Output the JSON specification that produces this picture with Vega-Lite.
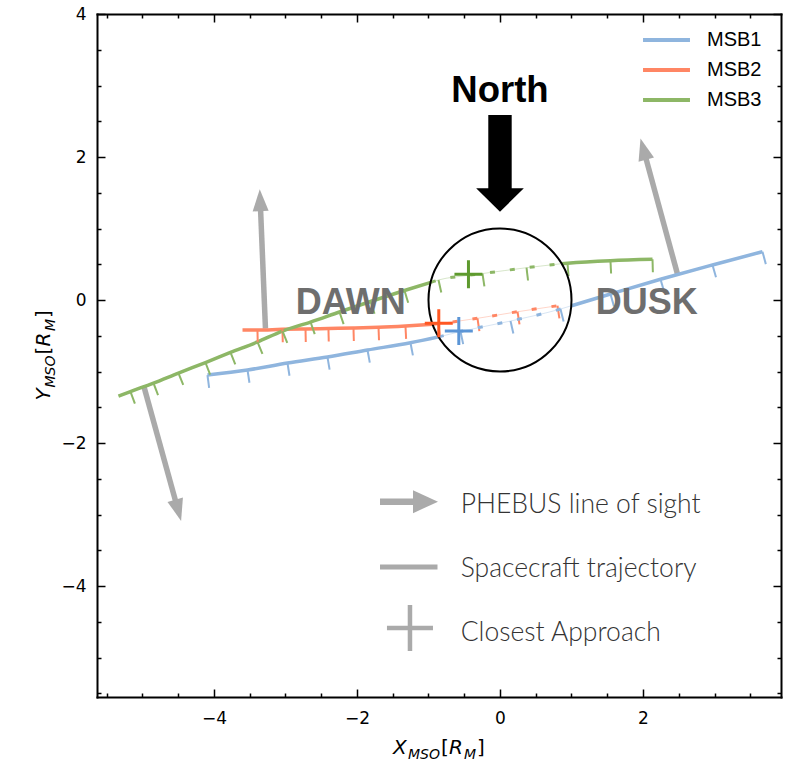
{
 "$schema": "https://vega.github.io/schema/vega-lite/v6.json",
 "width": 684,
 "height": 683,
 "autosize": {"type": "none"},
 "padding": {"left": 97, "top": 14, "right": 11, "bottom": 63},
 "background": "white",
 "config": {"view": {"stroke": null}},
 "datasets": {
  "traj": [
   {"msb":"MSB1","seg":"a","x":-4.091,"y":-1.049},
   {"msb":"MSB1","seg":"a","x":-3.531,"y":-0.979},
   {"msb":"MSB1","seg":"a","x":-2.972,"y":-0.881},
   {"msb":"MSB1","seg":"a","x":-2.413,"y":-0.797},
   {"msb":"MSB1","seg":"a","x":-1.853,"y":-0.699},
   {"msb":"MSB1","seg":"a","x":-1.252,"y":-0.597},
   {"msb":"MSB1","seg":"a","x":-0.855,"y":-0.515},
   {"msb":"MSB1","seg":"in","x":-0.855,"y":-0.515},
   {"msb":"MSB1","seg":"in","x":-0.552,"y":-0.441},
   {"msb":"MSB1","seg":"in","x":0.147,"y":-0.294},
   {"msb":"MSB1","seg":"in","x":0.846,"y":-0.126},
   {"msb":"MSB1","seg":"in","x":0.997,"y":-0.081},
   {"msb":"MSB1","seg":"b","x":0.997,"y":-0.081},
   {"msb":"MSB1","seg":"b","x":1.545,"y":0.084},
   {"msb":"MSB1","seg":"b","x":2.245,"y":0.29},
   {"msb":"MSB1","seg":"b","x":2.972,"y":0.49},
   {"msb":"MSB1","seg":"b","x":3.671,"y":0.676},
   {"msb":"MSB2","seg":"a","x":-3.601,"y":-0.42},
   {"msb":"MSB2","seg":"a","x":-3.392,"y":-0.42},
   {"msb":"MSB2","seg":"a","x":-3.042,"y":-0.41},
   {"msb":"MSB2","seg":"a","x":-2.72,"y":-0.406},
   {"msb":"MSB2","seg":"a","x":-2.399,"y":-0.399},
   {"msb":"MSB2","seg":"a","x":-2.049,"y":-0.392},
   {"msb":"MSB2","seg":"a","x":-1.699,"y":-0.382},
   {"msb":"MSB2","seg":"a","x":-1.322,"y":-0.364},
   {"msb":"MSB2","seg":"a","x":-0.94,"y":-0.34},
   {"msb":"MSB2","seg":"in","x":-0.94,"y":-0.34},
   {"msb":"MSB2","seg":"in","x":-0.86,"y":-0.331},
   {"msb":"MSB2","seg":"in","x":-0.315,"y":-0.256},
   {"msb":"MSB2","seg":"in","x":0.245,"y":-0.164},
   {"msb":"MSB2","seg":"in","x":0.804,"y":-0.08},
   {"msb":"MSB3","seg":"a","x":-5.336,"y":-1.343},
   {"msb":"MSB3","seg":"a","x":-5.168,"y":-1.28},
   {"msb":"MSB3","seg":"a","x":-4.846,"y":-1.161},
   {"msb":"MSB3","seg":"a","x":-4.497,"y":-1.021},
   {"msb":"MSB3","seg":"a","x":-4.119,"y":-0.874},
   {"msb":"MSB3","seg":"a","x":-3.769,"y":-0.734},
   {"msb":"MSB3","seg":"a","x":-3.392,"y":-0.587},
   {"msb":"MSB3","seg":"a","x":-3.042,"y":-0.434},
   {"msb":"MSB3","seg":"a","x":-2.65,"y":-0.308},
   {"msb":"MSB3","seg":"a","x":-2.245,"y":-0.168},
   {"msb":"MSB3","seg":"a","x":-1.811,"y":-0.021},
   {"msb":"MSB3","seg":"a","x":-1.336,"y":0.133},
   {"msb":"MSB3","seg":"a","x":-0.966,"y":0.247},
   {"msb":"MSB3","seg":"in","x":-0.966,"y":0.247},
   {"msb":"MSB3","seg":"in","x":-0.86,"y":0.28},
   {"msb":"MSB3","seg":"in","x":-0.441,"y":0.345},
   {"msb":"MSB3","seg":"in","x":-0.245,"y":0.37},
   {"msb":"MSB3","seg":"in","x":0.371,"y":0.452},
   {"msb":"MSB3","seg":"in","x":0.86,"y":0.508},
   {"msb":"MSB3","seg":"b","x":0.86,"y":0.508},
   {"msb":"MSB3","seg":"b","x":0.944,"y":0.515},
   {"msb":"MSB3","seg":"b","x":1.545,"y":0.55},
   {"msb":"MSB3","seg":"b","x":2.133,"y":0.569}
  ],
  "ticks": [
   {"msb":"MSB1","x":-4.091,"y":-1.049,"x2":-4.068,"y2":-1.228},
   {"msb":"MSB1","x":-3.531,"y":-0.979,"x2":-3.504,"y2":-1.157},
   {"msb":"MSB1","x":-2.972,"y":-0.881,"x2":-2.944,"y2":-1.059},
   {"msb":"MSB1","x":-2.413,"y":-0.797,"x2":-2.383,"y2":-0.974},
   {"msb":"MSB1","x":-1.853,"y":-0.699,"x2":-1.821,"y2":-0.876},
   {"msb":"MSB1","x":-1.252,"y":-0.597,"x2":-1.218,"y2":-0.774},
   {"msb":"MSB1","x":-0.552,"y":-0.441,"x2":-0.515,"y2":-0.617},
   {"msb":"MSB1","x":0.147,"y":-0.294,"x2":0.187,"y2":-0.469},
   {"msb":"MSB1","x":0.846,"y":-0.126,"x2":0.89,"y2":-0.301},
   {"msb":"MSB1","x":1.545,"y":0.084,"x2":1.594,"y2":-0.089},
   {"msb":"MSB1","x":2.245,"y":0.29,"x2":2.295,"y2":0.117},
   {"msb":"MSB1","x":2.972,"y":0.49,"x2":3.021,"y2":0.317},
   {"msb":"MSB1","x":3.671,"y":0.676,"x2":3.718,"y2":0.502},
   {"msb":"MSB2","x":-3.392,"y":-0.42,"x2":-3.388,"y2":-0.6},
   {"msb":"MSB2","x":-3.042,"y":-0.41,"x2":-3.038,"y2":-0.59},
   {"msb":"MSB2","x":-2.72,"y":-0.406,"x2":-2.716,"y2":-0.586},
   {"msb":"MSB2","x":-2.399,"y":-0.399,"x2":-2.395,"y2":-0.579},
   {"msb":"MSB2","x":-2.049,"y":-0.392,"x2":-2.044,"y2":-0.572},
   {"msb":"MSB2","x":-1.699,"y":-0.382,"x2":-1.692,"y2":-0.562},
   {"msb":"MSB2","x":-1.322,"y":-0.364,"x2":-1.313,"y2":-0.544},
   {"msb":"MSB2","x":-0.86,"y":-0.331,"x2":-0.842,"y2":-0.51},
   {"msb":"MSB2","x":-0.315,"y":-0.256,"x2":-0.288,"y2":-0.434},
   {"msb":"MSB2","x":0.245,"y":-0.164,"x2":0.273,"y2":-0.342},
   {"msb":"MSB2","x":0.804,"y":-0.08,"x2":0.831,"y2":-0.258},
   {"msb":"MSB3","x":-5.168,"y":-1.28,"x2":-5.106,"y2":-1.449},
   {"msb":"MSB3","x":-4.846,"y":-1.161,"x2":-4.782,"y2":-1.329},
   {"msb":"MSB3","x":-4.497,"y":-1.021,"x2":-4.43,"y2":-1.188},
   {"msb":"MSB3","x":-4.119,"y":-0.874,"x2":-4.054,"y2":-1.042},
   {"msb":"MSB3","x":-3.769,"y":-0.734,"x2":-3.702,"y2":-0.901},
   {"msb":"MSB3","x":-3.392,"y":-0.587,"x2":-3.322,"y2":-0.753},
   {"msb":"MSB3","x":-3.042,"y":-0.434,"x2":-2.975,"y2":-0.601},
   {"msb":"MSB3","x":-2.65,"y":-0.308,"x2":-2.591,"y2":-0.478},
   {"msb":"MSB3","x":-2.245,"y":-0.168,"x2":-2.187,"y2":-0.338},
   {"msb":"MSB3","x":-1.811,"y":-0.021,"x2":-1.755,"y2":-0.192},
   {"msb":"MSB3","x":-1.336,"y":0.133,"x2":-1.284,"y2":-0.039},
   {"msb":"MSB3","x":-0.86,"y":0.28,"x2":-0.821,"y2":0.104},
   {"msb":"MSB3","x":-0.245,"y":0.37,"x2":-0.218,"y2":0.192},
   {"msb":"MSB3","x":0.371,"y":0.452,"x2":0.392,"y2":0.273},
   {"msb":"MSB3","x":0.944,"y":0.515,"x2":0.958,"y2":0.336},
   {"msb":"MSB3","x":1.545,"y":0.55,"x2":1.554,"y2":0.37},
   {"msb":"MSB3","x":2.133,"y":0.569,"x2":2.138,"y2":0.389}
  ],
  "crosses": [
   {"msb":"MSB1","x":-0.576,"y":-0.434},
   {"msb":"MSB2","x":-0.856,"y":-0.326},
   {"msb":"MSB3","x":-0.441,"y":0.36}
  ],
  "arrows": [
   {"x":-3.28,"y":-0.4,"tx":-3.36,"ty":1.55},
   {"x":2.48,"y":0.37,"tx":1.965,"ty":2.26},
   {"x":-4.98,"y":-1.21,"tx":-4.46,"ty":-3.09}
  ],
  "legarrow": [
   {"x":-1.678,"y":-2.82,"tx":-0.867,"ty":-2.82}
  ]
 },
 "encoding": {
  "x": {"field":"x","type":"quantitative","scale":{"domain":[-5.636,3.93],"nice":false,"zero":false},"axis":null},
  "y": {"field":"y","type":"quantitative","scale":{"domain":[-5.552,4.0],"nice":false,"zero":false},"axis":null}
 },
 "layer": [
  {
   "data": {"name":"arrows"},
   "transform": [
    {"calculate":"sqrt(pow(datum.tx-datum.x,2)+pow(datum.ty-datum.y,2))","as":"len"},
    {"calculate":"datum.tx-0.17*(datum.tx-datum.x)/datum.len","as":"ex"},
    {"calculate":"datum.ty-0.17*(datum.ty-datum.y)/datum.len","as":"ey"}
   ],
   "mark": {"type":"rule","color":"#aaaaaa","strokeWidth":5.5,"strokeCap":"butt"},
   "encoding": {"x2":{"field":"ex"},"y2":{"field":"ey"}}
  },
  {
   "data": {"name":"arrows"},
   "transform": [
    {"calculate":"atan2(datum.tx-datum.x, datum.ty-datum.y)*180/PI","as":"ang"}
   ],
   "mark": {"type":"point","shape":"M0,0L0.727,2L-0.727,2Z","filled":true,"color":"#aaaaaa","size":484,"opacity":1,"strokeWidth":0},
   "encoding": {
    "x": {"field":"tx","type":"quantitative","scale":{"domain":[-5.636,3.93],"nice":false,"zero":false},"axis":null},
    "y": {"field":"ty","type":"quantitative","scale":{"domain":[-5.552,4.0],"nice":false,"zero":false},"axis":null},
    "angle": {"field":"ang","type":"quantitative","scale":null}
   }
  },
  {
   "data": {"name":"traj"},
   "transform": [{"filter":"datum.seg !== 'in'"}],
   "mark": {"type":"line","strokeWidth":3.5,"interpolate":"monotone"},
   "encoding": {
    "color": {"field":"msb","type":"nominal",
      "scale":{"domain":["MSB1","MSB2","MSB3"],"range":["#8fb5de","#ff8664","#8db766"]},
      "legend":{
      "orient":"none","legendX":559.5,"legendY":16,"title":null,"padding":0,
      "symbolType":"M-3,0L3,0","symbolSize":245,"symbolStrokeWidth":4,"symbolOpacity":1,
      "labelFont":"Liberation Sans","labelFontSize":20,"labelColor":"black","labelOffset":30.5,"rowPadding":10
    }},
    "detail": {"field":"seg"}
   }
  },
  {
   "data": {"name":"ticks"},
   "mark": {"type":"rule","strokeWidth":2},
   "encoding": {
    "x2": {"field":"x2"},
    "y2": {"field":"y2"},
    "stroke": {"field":"msb","type":"nominal","scale":{"domain":["MSB3","MSB2","MSB1"],"range":["#8db766","#ff8664","#8fb5de"]},"legend":null}
   }
  },
  {
   "data": {"name":"traj"},
   "transform": [{"filter":"datum.seg === 'in'"}],
   "mark": {"type":"line","strokeWidth":1,"opacity":0.35,"interpolate":"monotone"},
   "encoding": {
    "stroke": {"field":"msb","type":"nominal","legend":null},
    "detail": {"field":"msb"}
   }
  },
  {
   "data": {"name":"traj"},
   "transform": [{"filter":"datum.seg === 'in'"}],
   "mark": {"type":"line","strokeWidth":3,"strokeDash":[5,15],"interpolate":"monotone"},
   "encoding": {
    "stroke": {"field":"msb","type":"nominal","legend":null},
    "detail": {"field":"msb"}
   }
  },
  {
   "data": {"values":[{"x":0,"y":0}]},
   "mark": {"type":"point","shape":"circle","filled":false,"size":20449,"stroke":"black","strokeWidth":2,"opacity":1},
   "encoding": {
    "x": {"field":"x","type":"quantitative","scale":{"domain":[-5.636,3.93],"nice":false,"zero":false},
      "axis":{"orient":"bottom","values":[-5.5,-5,-4.5,-4,-3.5,-3,-2.5,-2,-1.5,-1,-0.5,0,0.5,1,1.5,2,2.5,3,3.5],
        "tickSize":{"condition":{"test":"datum.value % 2 === 0","value":-8},"value":-4},
        "tickColor":"black","tickWidth":1.5,"domainColor":"black","domainWidth":2,"domainCap":"square","grid":false,"title":null,
        "labelExpr":"datum.value % 2 === 0 ? format(datum.value, 'd') : ''",
        "labelFont":"DejaVu Sans","labelFontSize":17,"labelColor":"black","labelPadding":21,
        "labelOverlap":false,"labelFlush":false,"labelBound":false,"zindex":1}},
    "y": {"field":"y","type":"quantitative","scale":{"domain":[-5.552,4.0],"nice":false,"zero":false},
      "axis":{"orient":"left","values":[-5.5,-5,-4.5,-4,-3.5,-3,-2.5,-2,-1.5,-1,-0.5,0,0.5,1,1.5,2,2.5,3,3.5,4],
        "tickSize":{"condition":{"test":"datum.value % 2 === 0","value":-8},"value":-4},
        "tickColor":"black","tickWidth":1.5,"domainColor":"black","domainWidth":2,"domainCap":"square","grid":false,"title":null,
        "labelExpr":"datum.value % 2 === 0 ? format(datum.value, 'd') : ''",
        "labelFont":"DejaVu Sans","labelFontSize":17,"labelColor":"black","labelPadding":19,
        "labelOverlap":false,"labelFlush":false,"labelBound":false,"zindex":1}}
   }
  },
  {
   "data": {"name":"crosses"},
   "mark": {"type":"point","shape":"M-1,-0.107L1,-0.107L1,0.107L-1,0.107ZM-0.107,-1L0.107,-1L0.107,1L-0.107,1Z","filled":true,"size":784,"strokeWidth":0,"opacity":1},
   "encoding": {
    "fill": {"field":"msb","type":"nominal","scale":{"domain":["MSB2","MSB3","MSB1"],"range":["#ff5722","#5e9a2e","#5b95d6"]},"legend":null}
   }
  },
  {
   "data": {"values":[{"x":0,"y":1.911}]},
   "mark": {"type":"point","shape":"M-0.242,-1L0.242,-1L0.242,0.516L0.493,0.516L0,1L-0.493,0.516L-0.242,0.516Z","filled":true,"color":"black","size":9351,"opacity":1,"strokeWidth":0},
   "encoding": {
    "x": {"field":"x","type":"quantitative","scale":{"domain":[-5.636,3.93],"nice":false,"zero":false},
      "axis":{"orient":"top","values":[-5.5,-5,-4.5,-4,-3.5,-3,-2.5,-2,-1.5,-1,-0.5,0,0.5,1,1.5,2,2.5,3,3.5],
        "tickSize":{"condition":{"test":"datum.value % 2 === 0","value":-8},"value":-4},
        "tickColor":"black","tickWidth":1.5,"domainColor":"black","domainWidth":2,"domainCap":"square","grid":false,"title":null,
        "labels":false,"zindex":1}},
    "y": {"field":"y","type":"quantitative","scale":{"domain":[-5.552,4.0],"nice":false,"zero":false},
      "axis":{"orient":"right","values":[-5.5,-5,-4.5,-4,-3.5,-3,-2.5,-2,-1.5,-1,-0.5,0,0.5,1,1.5,2,2.5,3,3.5,4],
        "tickSize":{"condition":{"test":"datum.value % 2 === 0","value":-8},"value":-4},
        "tickColor":"black","tickWidth":1.5,"domainColor":"black","domainWidth":2,"domainCap":"square","grid":false,"title":null,
        "labels":false,"zindex":1}}
   }
  },
  {
   "data": {"values":[{"x":0,"y":2.77,"t":"North"}]},
   "mark": {"type":"text","font":"Liberation Sans","fontWeight":"bold","fontSize":36.5,"color":"black","align":"center","baseline":"alphabetic"},
   "encoding": {"text":{"field":"t"}}
  },
  {
   "data": {"values":[{"x":-2.087,"y":-0.196,"t":"DAWN"},{"x":2.052,"y":-0.196,"t":"DUSK"}]},
   "mark": {"type":"text","font":"Liberation Sans","fontWeight":"bold","fontSize":36,"color":"#6e6e6e","align":"center","baseline":"alphabetic"},
   "encoding": {"text":{"field":"t"}}
  },
  {
   "data": {"name":"legarrow"},
   "transform": [
    {"calculate":"datum.tx-0.2","as":"ex"}
   ],
   "mark": {"type":"rule","color":"#aaaaaa","strokeWidth":6.5,"strokeCap":"butt"},
   "encoding": {"x2":{"field":"ex"},"y2":{"field":"ty"}}
  },
  {
   "data": {"name":"legarrow"},
   "mark": {"type":"point","shape":"M0,0L0.92,2L-0.92,2Z","filled":true,"color":"#aaaaaa","size":625,"opacity":1,"strokeWidth":0,"angle":90},
   "encoding": {
    "x": {"field":"tx","type":"quantitative","scale":{"domain":[-5.636,3.93],"nice":false,"zero":false},"axis":null},
    "y": {"field":"ty","type":"quantitative","scale":{"domain":[-5.552,4.0],"nice":false,"zero":false},"axis":null}
   }
  },
  {
   "data": {"values":[{"x":-1.678,"y":-3.734,"x2":-0.874}]},
   "mark": {"type":"rule","color":"#aaaaaa","strokeWidth":5,"strokeCap":"butt"},
   "encoding": {"x2":{"field":"x2"}}
  },
  {
   "data": {"values":[{"x":-1.259,"y":-4.587}]},
   "mark": {"type":"point","shape":"M-1,0L1,0M0,-1L0,1","filled":false,"color":"#aaaaaa","size":2116,"strokeWidth":4.5,"opacity":1}
  },
  {
   "data": {"values":[
    {"x":-0.55,"y":-2.982,"t":"PHEBUS line of sight"},
    {"x":-0.55,"y":-3.867,"t":"Spacecraft trajectory"},
    {"x":-0.55,"y":-4.766,"t":"Closest Approach"}
   ]},
   "mark": {"type":"text","font":"Lato","fontWeight":300,"fontSize":26.5,"color":"#333333","align":"left","baseline":"alphabetic"},
   "encoding": {"text":{"field":"t"}}
  },
  {"data":{"values":[{"x":-0.853,"y":-5.552}]},"mark":{"type":"text","text":"X","font":"DejaVu Sans","fontStyle":"italic","fontSize":20,"color":"black","align":"left","baseline":"alphabetic","dx":-46,"dy":57}},
  {"data":{"values":[{"x":-0.853,"y":-5.552}]},"mark":{"type":"text","text":"MSO","font":"DejaVu Sans","fontStyle":"italic","fontSize":14,"color":"black","align":"left","baseline":"alphabetic","dx":-31,"dy":61.5}},
  {"data":{"values":[{"x":-0.853,"y":-5.552}]},"mark":{"type":"text","text":"[","font":"DejaVu Sans","fontSize":20,"color":"black","align":"left","baseline":"alphabetic","dx":2,"dy":57}},
  {"data":{"values":[{"x":-0.853,"y":-5.552}]},"mark":{"type":"text","text":"R","font":"DejaVu Sans","fontStyle":"italic","fontSize":20,"color":"black","align":"left","baseline":"alphabetic","dx":10,"dy":57}},
  {"data":{"values":[{"x":-0.853,"y":-5.552}]},"mark":{"type":"text","text":"M","font":"DejaVu Sans","fontStyle":"italic","fontSize":14,"color":"black","align":"left","baseline":"alphabetic","dx":25,"dy":61.5}},
  {"data":{"values":[{"x":-0.853,"y":-5.552}]},"mark":{"type":"text","text":"]","font":"DejaVu Sans","fontSize":20,"color":"black","align":"left","baseline":"alphabetic","dx":38,"dy":57}},
  {"data":{"values":[{"x":-5.636,"y":-0.776}]},"mark":{"type":"text","text":"Y","font":"DejaVu Sans","fontStyle":"italic","fontSize":20,"color":"black","align":"left","baseline":"alphabetic","angle":270,"dx":-45,"dy":-47}},
  {"data":{"values":[{"x":-5.636,"y":-0.776}]},"mark":{"type":"text","text":"MSO","font":"DejaVu Sans","fontStyle":"italic","fontSize":14,"color":"black","align":"left","baseline":"alphabetic","angle":270,"dx":-32,"dy":-42.5}},
  {"data":{"values":[{"x":-5.636,"y":-0.776}]},"mark":{"type":"text","text":"[","font":"DejaVu Sans","fontSize":20,"color":"black","align":"left","baseline":"alphabetic","angle":270,"dx":1,"dy":-47}},
  {"data":{"values":[{"x":-5.636,"y":-0.776}]},"mark":{"type":"text","text":"R","font":"DejaVu Sans","fontStyle":"italic","fontSize":20,"color":"black","align":"left","baseline":"alphabetic","angle":270,"dx":9,"dy":-47}},
  {"data":{"values":[{"x":-5.636,"y":-0.776}]},"mark":{"type":"text","text":"M","font":"DejaVu Sans","fontStyle":"italic","fontSize":14,"color":"black","align":"left","baseline":"alphabetic","angle":270,"dx":24.5,"dy":-42.5}},
  {"data":{"values":[{"x":-5.636,"y":-0.776}]},"mark":{"type":"text","text":"]","font":"DejaVu Sans","fontSize":20,"color":"black","align":"left","baseline":"alphabetic","angle":270,"dx":37.5,"dy":-47}}
 ]
}
